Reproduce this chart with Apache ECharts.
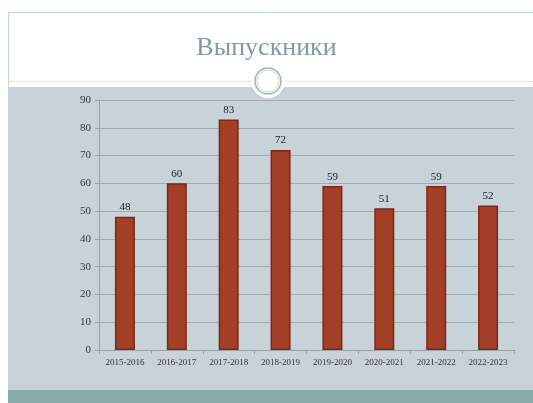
<!DOCTYPE html>
<html><head><meta charset="utf-8">
<script src="https://cdn.jsdelivr.net/npm/echarts@6/dist/echarts.min.js"></script>
<style>html,body{margin:0;padding:0;background:#fff}#c{width:533px;height:403px}</style>
</head><body><div id="c"></div>
<script>
const titleText = 'Выпускники';
const categories = ['2015-2016','2016-2017','2017-2018','2018-2019','2019-2020','2020-2021','2021-2022','2022-2023'];
const values = [48, 60, 83, 72, 59, 51, 59, 52];
const yTicks = {min: 0, max: 90, interval: 10};

const chart = echarts.init(document.getElementById('c'), null, {renderer: 'canvas'});
chart.setOption({
  animation: false,
  backgroundColor: '#ffffff',
  title: {
    text: titleText, left: 'center', top: 30,
    textStyle: {fontFamily: 'Liberation Serif', fontWeight: 'normal', fontSize: 26, color: '#7f9c9c'}
  },
  graphic: [
    {type: 'rect', z: -10, shape: {x: 8, y: 87, width: 525, height: 304}, style: {fill: '#c8d3d9'}},
    {type: 'rect', z: -10, shape: {x: 8, y: 390, width: 525, height: 13}, style: {fill: '#88acaa'}},
    {type: 'line', z: -5, shape: {x1: 8, y1: 12.5, x2: 533, y2: 12.5}, style: {stroke: '#c5d6d6', lineWidth: 1}},
    {type: 'line', z: -5, shape: {x1: 8.5, y1: 12, x2: 8.5, y2: 87}, style: {stroke: '#c5d6d6', lineWidth: 1}},
    {type: 'line', z: -5, shape: {x1: 8, y1: 81.5, x2: 533, y2: 81.5}, style: {stroke: '#c3d0d0', lineWidth: 1, lineDash: [1, 1]}},
    {type: 'circle', z: 5, shape: {cx: 268, cy: 81, r: 17}, style: {fill: '#ffffff', stroke: null}},
    {type: 'circle', z: 6, shape: {cx: 268, cy: 81, r: 13}, style: {fill: '#ffffff', stroke: '#9fb4b4', lineWidth: 1.5}},
    {type: 'circle', z: 6, shape: {cx: 268, cy: 81, r: 11}, style: {fill: null, stroke: '#c9d6d6', lineWidth: 1}}
  ],
  grid: {left: 99, right: 19, top: 100, bottom: 53, containLabel: false},
  xAxis: {
    type: 'category', data: categories,
    axisLine: {lineStyle: {color: '#9aa3a8'}},
    axisTick: {show: true, alignWithLabel: false, length: 4, lineStyle: {color: '#9aa3a8'}},
    axisLabel: {fontFamily: 'Liberation Serif', fontSize: 9, color: '#333', margin: 8}
  },
  yAxis: {
    type: 'value', min: yTicks.min, max: yTicks.max, interval: yTicks.interval,
    axisLine: {show: true, lineStyle: {color: '#9aa3a8'}},
    axisTick: {show: true, length: 4, lineStyle: {color: '#9aa3a8'}},
    axisLabel: {fontFamily: 'Liberation Serif', fontSize: 11, color: '#333', margin: 8},
    splitLine: {lineStyle: {color: '#a3abb0', width: 1}}
  },
  series: [{
    type: 'bar', data: values, barWidth: 20,
    itemStyle: {color: '#a33f27', borderColor: '#7a2917', borderWidth: 1.5},
    label: {show: true, position: 'top', distance: 4, fontFamily: 'Liberation Serif', fontSize: 11, color: '#222'}
  }]
});
</script></body></html>
